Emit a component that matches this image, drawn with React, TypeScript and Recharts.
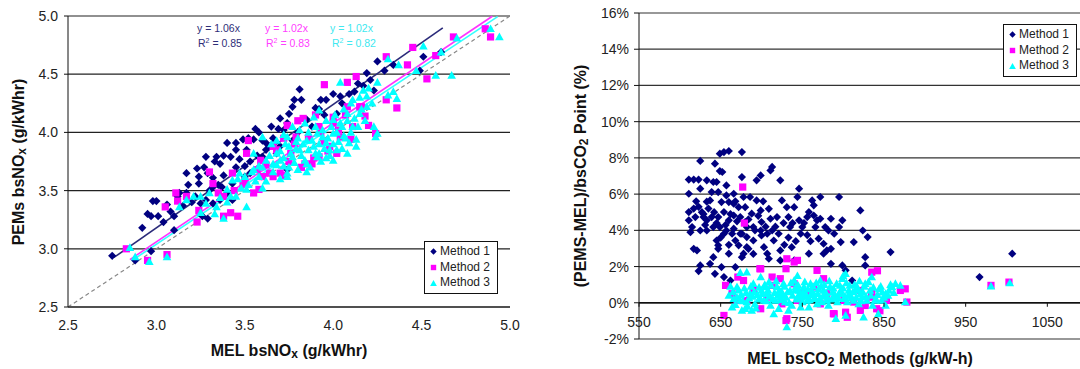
import React from "react";
import {
  ScatterChart, Scatter, XAxis, YAxis, CartesianGrid, ReferenceLine, Legend, Label,
} from "recharts";

const FONT = "'Liberation Sans', Arial, Helvetica, sans-serif";

const methodNames = ["Method 1", "Method 2", "Method 3"];
const methodColors = ["#000080", "#FF00FF", "#00FFFF"];
const methodShapes = ["diamond", "square", "triangle"];

// left panel: PEMs vs MEL bsNOx (g/kWhr)
const noxTicks = [2.5, 3.0, 3.5, 4.0, 4.5, 5.0];

const noxMethod1: [number, number][] = [
  [2.75, 2.94], [2.88, 2.9], [2.92, 3.18], [2.97, 3.28], [2.97, 2.98], [2.98, 3.41], [3.0, 3.41],
  [3.01, 3.28], [3.04, 3.23], [3.1, 3.16], [3.08, 3.32], [3.13, 3.48], [3.17, 3.48], [3.23, 3.69],
  [3.24, 3.62], [3.24, 3.56], [3.28, 3.79], [3.29, 3.65], [3.32, 3.61], [3.34, 3.79], [3.36, 3.73],
  [3.4, 3.91], [3.45, 3.91], [3.42, 3.79], [3.37, 3.53], [3.36, 3.42], [3.32, 3.39], [3.28, 3.42],
  [3.29, 3.26], [3.25, 3.39], [3.47, 3.77], [3.5, 3.71], [3.55, 3.94], [3.56, 4.03], [3.49, 3.94],
  [3.51, 3.85], [3.53, 3.65], [3.6, 3.79], [3.62, 3.91], [3.64, 3.88], [3.69, 4.03], [3.72, 4.02],
  [3.74, 4.08], [3.75, 4.16], [3.77, 4.22], [3.78, 4.28], [3.81, 4.37], [3.82, 4.28], [3.77, 3.93],
  [3.85, 4.11], [3.9, 4.21], [3.93, 4.28], [3.96, 4.28], [4.0, 4.33], [4.04, 4.31], [4.09, 4.33],
  [4.14, 4.42], [4.19, 4.51], [4.21, 4.45], [4.23, 4.36], [4.25, 4.61], [4.29, 4.53], [4.34, 4.58],
  [4.51, 4.65], [4.49, 4.53], [4.61, 4.69], [4.02, 4.16], [3.74, 3.68], [3.43, 3.56], [3.17, 3.65],
  [3.26, 3.28], [3.32, 3.53], [3.43, 3.42], [3.4, 3.48], [3.62, 3.85], [3.66, 3.95], [3.7, 3.88],
  [3.57, 3.8], [3.53, 3.75], [3.45, 3.7], [3.38, 3.63], [3.35, 3.55], [3.3, 3.5], [3.22, 3.45],
  [3.2, 3.4], [3.15, 3.37], [3.88, 4.05], [3.95, 4.15], [4.05, 4.25], [4.12, 4.35], [4.17, 4.4],
  [3.8, 4.0], [3.92, 4.2], [3.52, 3.95], [3.58, 4.0], [3.65, 4.05], [3.7, 4.12], [3.6, 3.93],
  [3.45, 3.85], [3.38, 3.8], [3.33, 3.75], [3.27, 3.7], [3.18, 3.55], [3.12, 3.45], [3.06, 3.38],
  [2.95, 3.3], [3.1, 3.28], [3.5, 3.62], [3.58, 3.7], [3.68, 3.82],
];

const noxMethod2: [number, number][] = [
  [2.83, 3.0], [2.95, 2.9], [3.06, 2.95], [3.05, 3.36], [3.12, 3.41], [3.11, 3.48], [3.24, 3.33],
  [3.23, 3.23], [3.3, 3.66], [3.35, 3.48], [3.42, 3.31], [3.46, 3.28], [3.38, 3.28], [3.51, 3.82],
  [3.52, 3.93], [3.55, 3.48], [3.58, 3.51], [3.49, 3.55], [3.6, 3.62], [3.64, 3.65], [3.66, 3.62],
  [3.73, 3.63], [3.74, 4.06], [3.83, 4.12], [3.84, 3.73], [3.88, 3.73], [3.95, 4.41], [3.98, 3.88],
  [4.03, 4.02], [4.08, 4.43], [4.1, 3.94], [4.13, 4.48], [4.2, 4.06], [4.24, 3.99], [4.3, 4.28],
  [4.36, 4.21], [4.3, 4.65], [4.42, 4.58], [4.45, 4.73], [4.53, 4.46], [4.58, 4.66], [4.68, 4.82],
  [4.86, 4.89], [4.89, 4.82], [4.16, 4.22], [4.0, 4.13], [3.92, 4.05], [3.79, 3.96], [3.66, 3.88],
  [3.92, 3.79], [3.76, 3.82], [4.08, 4.22], [3.59, 3.76], [3.43, 3.65], [3.32, 3.56], [3.17, 3.45],
  [3.68, 3.85], [3.75, 3.75], [3.78, 3.9], [3.82, 3.7], [3.86, 3.95], [3.89, 3.78], [3.93, 4.0],
  [3.97, 3.84], [4.0, 4.08], [4.04, 3.96], [4.07, 4.15], [4.11, 4.05], [4.15, 4.22], [4.18, 4.14],
  [3.62, 3.72], [3.57, 3.68], [3.5, 3.58], [3.44, 3.5], [3.38, 3.45], [3.72, 3.95], [3.8, 4.1],
  [3.9, 4.15], [3.95, 3.92], [4.02, 3.82], [3.7, 3.65],
];

const noxMethod3: [number, number][] = [
  [2.85, 3.01], [2.88, 2.93], [2.96, 2.89], [3.06, 2.93], [3.13, 3.36], [3.17, 3.42], [3.25, 3.31],
  [3.28, 3.39], [3.34, 3.36], [3.38, 3.26], [3.42, 3.45], [3.51, 3.36], [3.51, 3.51], [3.6, 3.52],
  [3.43, 3.59], [3.55, 3.68], [3.6, 3.96], [3.66, 3.73], [3.7, 3.76], [3.74, 3.65], [3.75, 3.88],
  [3.79, 3.92], [3.81, 3.85], [3.85, 3.93], [3.89, 3.88], [3.91, 3.99], [3.92, 3.82], [3.96, 3.91],
  [4.0, 3.99], [4.02, 3.85], [4.04, 4.08], [4.06, 3.97], [4.09, 3.91], [4.11, 4.05], [4.13, 3.94],
  [4.15, 4.16], [4.04, 4.43], [4.17, 4.36], [4.19, 4.31], [4.23, 4.05], [4.25, 3.99], [4.34, 4.35],
  [4.36, 4.29], [4.31, 4.63], [4.37, 4.58], [4.47, 4.53], [4.51, 4.74], [4.58, 4.49], [4.61, 4.69],
  [4.67, 4.49], [4.7, 4.81], [4.89, 4.89], [4.94, 4.82], [3.91, 3.79], [3.77, 3.79], [3.72, 3.71],
  [3.68, 3.82], [3.62, 3.76], [3.58, 3.71], [3.55, 3.82], [3.47, 3.65], [3.4, 3.51], [3.3, 3.48],
  [3.25, 3.45], [3.21, 3.45], [3.94, 3.96], [3.98, 3.85], [4.0, 4.11], [4.08, 4.16], [4.11, 4.28],
  [3.81, 4.02], [3.89, 4.13], [3.92, 4.19], [4.0, 3.76], [4.08, 3.82], [4.13, 3.88], [3.85, 3.73],
  [3.74, 3.96], [3.68, 3.93], [4.19, 4.22], [4.25, 4.43], [4.31, 4.32], [4.24, 3.96],
  [3.58, 3.62], [3.6, 3.7], [3.62, 3.58], [3.64, 3.8], [3.66, 3.66], [3.68, 3.72], [3.7, 3.6],
  [3.7, 3.84], [3.72, 3.78], [3.73, 3.9], [3.75, 3.7], [3.76, 3.82], [3.78, 3.74], [3.79, 3.86],
  [3.8, 3.68], [3.8, 3.95], [3.82, 3.8], [3.83, 3.9], [3.84, 3.76], [3.86, 3.85], [3.86, 4.0],
  [3.87, 3.7], [3.88, 3.93], [3.9, 3.82], [3.9, 4.05], [3.92, 3.9], [3.93, 3.75], [3.94, 4.02],
  [3.95, 3.86], [3.96, 4.1], [3.97, 3.95], [3.98, 3.8], [3.99, 4.05], [4.0, 3.9], [4.01, 4.15],
  [4.02, 4.0], [4.03, 3.92], [4.05, 4.05], [4.06, 4.2], [4.07, 3.95], [4.08, 4.1], [4.1, 4.0],
  [4.1, 4.25], [4.12, 4.12], [4.14, 4.05], [4.15, 4.3], [4.16, 4.2], [4.18, 4.1], [4.2, 4.38],
  [4.22, 4.25], [3.65, 3.9], [3.72, 3.98], [3.77, 4.05], [3.84, 4.08], [3.56, 3.58], [3.52, 3.55],
  [3.48, 3.52], [3.45, 3.45], [3.4, 3.4], [3.36, 3.44], [3.33, 3.3], [3.46, 3.6], [3.5, 3.62],
  [3.54, 3.66], [3.74, 3.62], [3.85, 3.66], [3.96, 3.78], [4.05, 3.86],
];

// regression lines y = slope * x, drawn between the read end points
const fitSlopes = [1.06, 1.02, 1.013];
const fitStart = [2.76, 2.85, 2.88];
const fitEnd = [4.62, 4.9, 4.93];
const fitEquations = ["y = 1.06x", "y = 1.02x", "y = 1.02x"];
const fitR2 = ["0.85", "0.83", "0.82"];
const fitLineColors = ["#2b2b7a", "#ff33ff", "#33ffff"];
const fitTextColors = ["#2e2e78", "#ff40ff", "#40e8f0"];

// right panel: (PEMS-MEL)/bsCO2 point (%) vs MEL bsCO2
const co2XTicks = [550, 650, 750, 850, 950, 1050];
const co2YTicks = [-2, 0, 2, 4, 6, 8, 10, 12, 14, 16];

const co2Method1: [number, number][] = [
  [611, 6.02], [611, 5.01], [613, 3.9], [611, 4.55], [611, 6.8], [617, 6.8], [623, 6.8], [625, 7.83],
  [625, 6.3], [623, 5.3], [617, 5.2], [619, 4.73], [625, 3.99], [617, 2.98], [621, 2.89], [623, 1.75],
  [625, 2.06], [633, 5.58], [629, 4.9], [633, 3.99], [633, 6.76], [639, 6.11], [637, 5.65], [641, 6.67],
  [643, 7.68], [639, 4.73], [641, 4.18], [641, 2.52], [637, 2.15], [643, 1.6], [649, 8.23], [654, 8.32],
  [660, 8.38], [649, 7.27], [652, 7.22], [645, 6.67], [647, 6.11], [651, 5.56], [654, 5.01], [647, 4.73],
  [649, 4.18], [654, 3.81], [647, 3.17], [651, 1.97], [657, 6.48], [657, 5.93], [660, 5.56], [660, 4.55],
  [657, 3.99], [660, 2.71], [654, 1.42], [662, 1.23], [666, 6.02], [666, 5.47], [666, 4.82], [666, 4.09],
  [668, 3.44], [668, 1.97], [672, 5.28], [674, 4.73], [674, 3.81], [676, 2.52], [676, 8.32], [676, 6.94],
  [678, 5.84], [680, 5.28], [680, 4.46], [682, 3.63], [682, 3.07], [686, 5.84], [688, 4.92], [690, 4.18],
  [690, 3.44], [684, 2.98], [694, 6.76], [699, 7.03], [694, 5.65], [699, 5.1], [700, 4.46], [700, 3.72],
  [703, 3.07], [707, 2.71], [709, 2.43], [709, 5.19], [711, 7.31], [713, 7.5], [711, 4.64], [713, 3.99],
  [715, 3.44], [723, 6.76], [725, 5.65], [719, 4.73], [721, 3.81], [723, 2.89], [723, 2.34], [731, 5.28],
  [733, 4.73], [735, 4.18], [737, 3.07], [740, 2.34], [744, 5.84], [746, 4.55], [748, 3.81], [746, 6.3],
  [750, 4.18], [756, 3.74], [758, 5.01], [758, 2.71], [762, 5.65], [764, 5.38], [766, 4.18], [768, 4.55],
  [770, 3.54], [772, 5.84], [776, 3.26], [776, 2.71], [778, 4.18], [780, 2.89], [782, 3.99], [785, 2.98],
  [785, 2.15], [795, 5.84], [795, 4.18], [797, 3.35], [799, 4.55], [799, 2.06], [803, 1.79], [811, 1.23],
  [813, 3.35], [821, 5.1], [824, 3.99], [827, 2.52], [827, 2.06], [830, 3.63], [858, 2.8], [967, 1.42],
  [1007, 2.71], [772, 4.64], [764, 4.82], [785, 4.64], [789, 3.81], [756, 4.73], [740, 5.28], [699, 3.99],
  [707, 3.81], [682, 4.18], [676, 3.81], [664, 3.81], [629, 4.73], [633, 4.55], [615, 4.18], [645, 3.44],
  [647, 2.98], [672, 3.17], [678, 2.71], [620, 5.6], [627, 5.0], [631, 4.3], [635, 5.2], [642, 5.0],
  [645, 4.4], [650, 3.6], [656, 4.3], [662, 4.9], [668, 5.6], [670, 4.5], [684, 4.6], [692, 4.0],
  [696, 4.8], [702, 5.6], [705, 4.2], [717, 4.2], [727, 4.4], [733, 3.6], [738, 4.4], [752, 4.4],
  [760, 3.4], [742, 3.4], [728, 3.2], [690, 2.7], [660, 3.2],
];

const co2Method2: [number, number][] = [
  [677, 6.39], [679, 4.4], [656, 0.96], [654, -0.7], [664, 0.5], [671, 1.42], [678, 1.23], [699, 1.88],
  [699, -0.33], [713, 1.42], [723, 1.33], [730, -0.98], [730, 1.88], [731, 2.43], [740, 2.25], [744, 2.34],
  [748, 0.5], [768, 1.79], [776, 1.33], [789, -0.61], [803, -0.52], [813, 0.04], [827, -0.15], [835, 1.69],
  [841, -0.33], [870, 0.68], [876, 0.77], [878, 0.04], [981, 0.96], [1003, 1.14], [713, 0.96], [740, 1.05],
  [756, 0.5], [764, 0.87], [780, 0.5], [801, 0.13], [821, 0.68], [835, 0.31], [853, 0.13], [682, 0.13],
  [707, 0.31], [725, -0.06], [744, 0.13], [670, 0.13], [690, 0.68], [772, -0.06], [821, -0.42], [835, 0.59],
  [731, -0.88], [788, -0.6], [805, -0.8], [845, -0.44], [842, 1.77], [698, 1.88],
];

const co2Method3: [number, number][] = [
  [660, 0.4], [664, -0.24], [670, 0.87], [674, 0.13], [676, -0.42], [680, -0.33], [682, 1.69], [686, 0.5],
  [690, 1.05], [692, -0.06], [699, 1.42], [700, 0.68], [703, 0.13], [707, 0.5], [711, -0.15], [715, -0.61],
  [719, 0.87], [723, 0.31], [727, 1.05], [731, -1.34], [733, -0.42], [735, 0.68], [740, 1.23], [744, 0.31],
  [748, -0.24], [752, 0.87], [756, 0.13], [760, 1.05], [764, 0.5], [768, -0.06], [772, 1.23], [776, 0.68],
  [780, 0.13], [784, 0.87], [788, 0.31], [791, -0.88], [795, 0.5], [799, 1.33], [803, 1.6], [803, -0.7],
  [807, 0.68], [813, 0.13], [817, 0.87], [821, 0.5], [825, -0.79], [827, 1.05], [833, 0.68], [835, 1.42],
  [839, 0.13], [843, -0.61], [847, 0.13], [852, 0.5], [856, 0.68], [860, 0.87], [864, 1.05], [870, 0.96],
  [876, 0.04], [981, 0.92], [1004, 1.09], [666, 0.22], [682, 0.04], [688, -0.42], [697, 0.22], [705, 0.87],
  [709, 1.14], [717, 0.13], [721, -0.33], [725, 0.59], [729, 0.04], [737, -0.15], [742, 0.87], [746, 0.68],
  [750, 0.04], [754, 0.5], [758, -0.24], [762, 0.59], [766, 0.22], [770, 0.77], [774, 0.04], [778, 0.41],
  [782, -0.15], [787, 0.59], [793, 0.04], [797, 0.68], [801, 0.22], [805, 0.04], [809, 0.41], [815, 0.68],
  [819, -0.06], [823, 0.31], [829, 0.13], [836, -0.15], [840, 0.22], [844, 0.77], [848, 0.59], [852, -0.15],
  [674, 1.66], [744, 1.49], [800, 1.49], [662, 0.9], [665, 0.6], [668, -0.1], [670, 0.3], [672, 0.7],
  [675, 0.45], [677, 0.1], [679, 0.8], [681, 0.55], [683, -0.2], [685, 0.25], [687, 0.9], [689, 0.35],
  [691, 0.6], [693, -0.3], [695, 0.45], [697, 0.85], [699, 0.2], [701, 0.5], [704, 1.0], [706, 0.1],
  [708, 0.7], [710, 0.35], [712, 0.95], [714, 0.2], [716, 0.55], [718, 1.2], [720, 0.4], [722, 0.7],
  [724, 0.15], [726, 0.45], [728, 0.9], [730, 0.3], [732, 0.6], [734, 0.0], [736, 1.1], [738, 0.4],
  [741, 0.7], [743, 0.2], [745, 0.95], [747, 0.5], [749, 0.3], [751, 0.6], [753, 1.15], [755, 0.35],
  [757, 0.75], [759, 0.15], [761, 0.45], [763, 0.9], [765, 0.3], [767, 1.1], [769, 0.5], [771, 0.2],
  [773, 0.9], [775, 0.35], [777, 1.0], [779, 0.55], [781, 0.3], [783, 1.2], [786, 0.2], [788, 0.8],
  [790, 0.45], [792, 1.05], [794, 0.25], [796, 0.95], [798, 0.5], [800, 0.8], [802, 0.35], [804, 1.1],
  [806, 0.4], [808, 0.95], [810, 0.25], [812, 0.6], [814, 1.0], [816, 0.3], [818, 0.75], [820, 1.2],
  [822, 0.1], [824, 0.6], [826, 0.9], [828, 0.35], [831, 1.15], [834, 0.4], [837, 0.85], [842, 0.45],
  [846, 0.9], [850, 0.3], [855, 0.4], [858, 1.0], [862, 0.55],
];

const noxSeries = [noxMethod1, noxMethod2, noxMethod3];
const co2Series = [co2Method1, co2Method2, co2Method3];

const toPoints = (arr: [number, number][]) => arr.map(([x, y]) => ({ x, y }));

const CO2_Y_MIN = -2;
const CO2_Y_MAX = 16;
const CO2_PLOT_H = 369 - 13 - 30;

function Marker({ kind, cx, cy, fill, s = 4.1 }: any) {
  if (kind === "diamond") {
    return <polygon points={`${cx},${cy - s} ${cx + s},${cy} ${cx},${cy + s} ${cx - s},${cy}`} fill={fill} />;
  }
  if (kind === "square") {
    const h = s - 0.5;
    return <rect x={cx - h} y={cy - h} width={2 * h} height={2 * h} fill={fill} />;
  }
  return <polygon points={`${cx},${cy - s - 0.3} ${cx + s + 0.2},${cy + s - 0.8} ${cx - s - 0.2},${cy + s - 0.8}`} fill={fill} />;
}

const LegendBox = () => (
  <div
    style={{
      boxSizing: "border-box", width: 74, height: 53, border: "1px solid #111", background: "#fff",
      padding: "2px 0 0 4px", fontSize: 12, lineHeight: "15.7px", color: "#222", fontFamily: FONT,
      whiteSpace: "nowrap",
    }}
  >
    {methodNames.map((n, i) => (
      <div key={n} style={{ display: "flex", alignItems: "center" }}>
        <svg width={9} height={9} style={{ marginRight: 2 }}>
          <Marker kind={methodShapes[i]} cx={4.5} cy={4.5} fill={methodColors[i]} s={3.2} />
        </svg>
        {n}
      </div>
    ))}
  </div>
);

const AxisTitle = ({ x, y, rotate, main, sub, rest }: any) => (
  <text
    x={x}
    y={y}
    transform={rotate ? `rotate(-90 ${x} ${y})` : undefined}
    textAnchor="middle"
    dominantBaseline="central"
    fontSize={16}
    fontWeight="bold"
    fill="#111"
    fontFamily={FONT}
  >
    <tspan>{main}</tspan>
    <tspan dy={4} fontSize={12}>{sub}</tspan>
    <tspan dy={-4}>{rest}</tspan>
  </text>
);

const CO2Tick = (props: any) => {
  const { x, y, payload } = props;
  const y0 = y - ((0 - CO2_Y_MIN) / (CO2_Y_MAX - CO2_Y_MIN)) * CO2_PLOT_H;
  return (
    <g>
      <line x1={x} x2={x} y1={y0} y2={y0 + 4} stroke="#111" />
      <text x={x} y={y0 + 24} textAnchor="middle" fontSize={14} fill="#222" fontFamily={FONT}>
        {payload.value}
      </text>
    </g>
  );
};

const tickStyle = { fontSize: 14, fill: "#222", fontFamily: FONT };

export default function App() {
  return (
    <div
      style={{
        position: "fixed", left: 0, top: 0, width: 1080, height: 369, background: "#fff",
        fontFamily: FONT, overflow: "hidden",
      }}
    >
      <div style={{ position: "absolute", left: 0, top: 0 }}>
        <ScatterChart width={540} height={369} margin={{ top: 16, right: 30, bottom: 12, left: 0 }}>
          <CartesianGrid vertical={false} stroke="#222" strokeWidth={1.2} />
          <XAxis
            type="number" dataKey="x" domain={[2.5, 5]} ticks={noxTicks} interval={0}
            tickFormatter={(v: number) => v.toFixed(1)} tick={tickStyle}
            tickLine={false} tickSize={0} tickMargin={13} height={50}
            axisLine={{ stroke: "#111" }}
          >
            <Label content={() => <AxisTitle x={289} y={350} main="MEL bsNO" sub="x" rest=" (g/kWhr)" />} />
          </XAxis>
          <YAxis
            type="number" dataKey="y" domain={[2.5, 5]} ticks={noxTicks} interval={0}
            tickFormatter={(v: number) => v.toFixed(1)} tick={tickStyle}
            tickSize={4} tickMargin={6} width={68}
            axisLine={{ stroke: "#111" }} tickLine={{ stroke: "#111" }}
          >
            <Label content={() => <AxisTitle x={18} y={162} rotate main="PEMs bsNO" sub="x" rest=" (g/kWhr)" />} />
          </YAxis>
          <ReferenceLine
            segment={[{ x: 2.5, y: 2.5 }, { x: 5, y: 5 }]}
            stroke="#888" strokeDasharray="4 3" strokeWidth={1.2}
          />
          {noxSeries.map((s, i) => (
            <Scatter
              key={methodNames[i]} name={methodNames[i]} data={toPoints(s)} fill={methodColors[i]}
              isAnimationActive={false}
              shape={(p: any) => <Marker kind={methodShapes[i]} cx={p.cx} cy={p.cy} fill={methodColors[i]} />}
            />
          ))}
          {fitSlopes.map((k, i) => (
            <ReferenceLine
              key={`fit${i}`}
              segment={[{ x: fitStart[i], y: k * fitStart[i] }, { x: fitEnd[i], y: k * fitEnd[i] }]}
              stroke={fitLineColors[i]} strokeWidth={1.6} ifOverflow="visible"
            />
          ))}
          <Legend
            layout="vertical" align="center" verticalAlign="middle"
            wrapperStyle={{ left: 424, top: 241, width: 74, height: 53, right: "auto", bottom: "auto" }}
            content={() => <LegendBox />}
          />
        </ScatterChart>
        <svg width={540} height={60} style={{ position: "absolute", left: 0, top: 0, pointerEvents: "none" }}>
          {fitEquations.map((eq, i) => (
            <text key={`eq${i}`} fontFamily={FONT} fontSize={10.5} fill={fitTextColors[i]}>
              <tspan x={[197, 265, 330][i]} y={32}>{eq}</tspan>
              <tspan x={[198, 266, 332][i]} y={47}>R</tspan>
              <tspan dy={-4} fontSize={7}>2</tspan>
              <tspan dy={4}>{` = ${fitR2[i]}`}</tspan>
            </text>
          ))}
        </svg>
      </div>

      <div style={{ position: "absolute", left: 540, top: 0 }}>
        <ScatterChart width={540} height={369} margin={{ top: 13, right: 0, bottom: 0, left: 0 }}>
          <CartesianGrid vertical={false} stroke="#333" strokeWidth={1.2} />
          <XAxis
            type="number" dataKey="x" domain={[550, 1090]} ticks={co2XTicks} interval={0}
            tick={<CO2Tick />} tickLine={false} tickSize={0} tickMargin={0} height={30}
            axisLine={false}
          >
            <Label content={() => <AxisTitle x={320} y={358} main="MEL bsCO" sub="2" rest=" Methods (g/kW-h)" />} />
          </XAxis>
          <YAxis
            type="number" dataKey="y" domain={[CO2_Y_MIN, CO2_Y_MAX]} ticks={co2YTicks} interval={0}
            tickFormatter={(v: number) => `${v}%`} tick={tickStyle}
            tickSize={5} tickMargin={5} width={99}
            axisLine={{ stroke: "#111" }} tickLine={{ stroke: "#111" }}
          >
            <Label content={() => <AxisTitle x={40} y={176} rotate main="(PEMS-MEL)/bsCO" sub="2" rest=" Point (%)" />} />
          </YAxis>
          <ReferenceLine y={0} stroke="#111" strokeWidth={1.4} />
          {co2Series.map((s, i) => (
            <Scatter
              key={methodNames[i]} name={methodNames[i]} data={toPoints(s)} fill={methodColors[i]}
              isAnimationActive={false}
              shape={(p: any) => <Marker kind={methodShapes[i]} cx={p.cx} cy={p.cy} fill={methodColors[i]} />}
            />
          ))}
          <Legend
            layout="vertical" align="center" verticalAlign="middle"
            wrapperStyle={{ left: 463, top: 24, width: 74, height: 53, right: "auto", bottom: "auto" }}
            content={() => <LegendBox />}
          />
        </ScatterChart>
      </div>
    </div>
  );
}
